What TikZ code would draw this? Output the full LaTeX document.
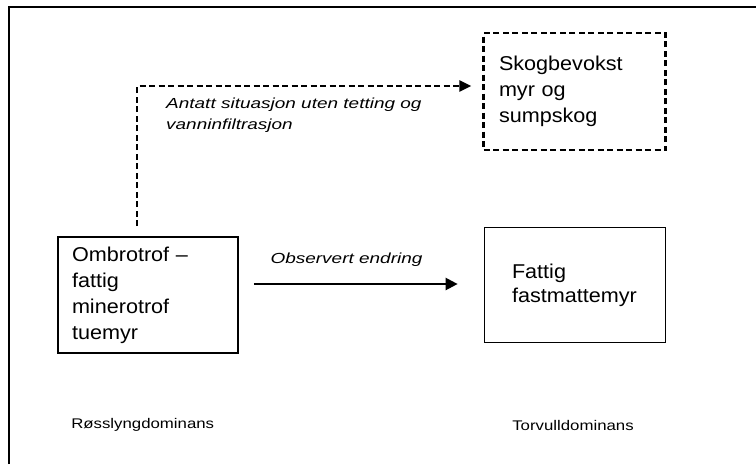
\documentclass[tikz,border=0pt]{standalone}
\usepackage{fontspec}
\setmainfont{Liberation Sans}
\newfontfamily\boxfont[FakeStretch=1.08]{Liberation Sans}
\newfontfamily\notefont[FakeStretch=1.2]{Liberation Sans}
\newfontfamily\labelfont[FakeStretch=1.3]{Liberation Sans}
\usetikzlibrary{arrows.meta,calc}

\tikzset{
  statebox/.style={draw=black, line width=1.7pt, inner ysep=0pt, align=left,
    font=\boxfont\fontsize{20}{26}\selectfont},
  dashbox/.style={statebox, line width=2.3pt, dash pattern=on 6pt off 3.5pt},
  flowlabel/.style={font=\labelfont\itshape\fontsize{14.6}{20.5}\selectfont, inner sep=0pt, align=left},
  footlabel/.style={font=\notefont\fontsize{14}{16}\selectfont, inner sep=0pt},
  solidarrow/.style={line width=2.3pt, -{Triangle[length=12pt,width=12pt]}},
  dasharrow/.style={line width=2.3pt, dash pattern=on 6pt off 3.5pt,
    -{Triangle[length=12pt,width=11pt]}},
}

\begin{document}
\begin{tikzpicture}[x=1pt,y=-1pt]
  \useasboundingbox[fill=white] (0,0) rectangle (756,464);

  % outer frame (only top and left edges fall inside the page)
  \draw[line width=1.6pt] (9,464) -- (9,7) -- (756,7);

  % states
  \node[statebox, minimum width=180pt, minimum height=116pt, text width=152pt, inner xsep=14pt]
    (ombro) at (148,295) {Ombrotrof –\\fattig\\minerotrof\\tuemyr};
  \node[statebox, minimum width=181pt, minimum height=115pt, text width=126pt, inner xsep=27.5pt,
    font=\boxfont\fontsize{20}{24}\selectfont]
    (fattig) at (575,285) {Fattig\\fastmattemyr};
  \node[dashbox, minimum width=182pt, minimum height=117pt, text width=151pt, inner xsep=15.5pt]
    (skog) at (574.5,91.7) {Skogbevokst\\myr og\\sumpskog};

  % observed change
  \coordinate (obsstart) at ($(ombro.east)+(15pt,11pt)$);
  \coordinate (obsend) at ($(fattig.west)+(-26pt,0pt)$);
  \draw[solidarrow] (obsstart) -- (obsstart -| obsend);
  \node[flowlabel] (obslabel) at (346.5,260) {Observert endring};

  % assumed development without sealing
  \coordinate (altstart) at ($(ombro.north west)+(80pt,10pt)$);
  \coordinate (altend) at ($(skog.west)+(-11pt,5.7pt)$);
  \draw[dasharrow] (altstart) |- (altend);
  \node[flowlabel, anchor=west] (altlabel) at (166,115)
    {Antatt situasjon uten tetting og\\vanninfiltrasjon};

  % dominance labels
  \node[footlabel] (heather) at (142.7,425) {Røsslyngdominans};
  \node[footlabel] (cotton) at (573,425) {Torvulldominans};
\end{tikzpicture}
\end{document}
